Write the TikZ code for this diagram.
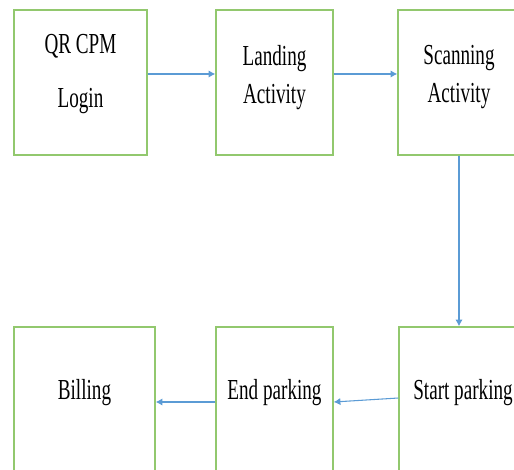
\documentclass[tikz,border=0pt]{standalone}
\usepackage{fontspec}
\setmainfont{Liberation Serif}
\usetikzlibrary{arrows.meta,calc}
\definecolor{boxgreen}{RGB}{146,200,110}
\definecolor{flowblue}{RGB}{91,155,213}
\newcommand{\squeeze}[1]{\scalebox{0.66}[1]{#1}}
\tikzset{
  stage/.style={draw=boxgreen, line width=1.1pt, minimum width=#1,
    minimum height=108.75pt, inner sep=0pt},
  lowstage/.style={stage=#1, minimum height=112.5pt},
  caption/.style={font=\fontsize{21.75}{28.5}\selectfont, align=center, inner sep=0pt},
  flow/.style={draw=flowblue, line width=0.8pt, -{Latex[length=5pt,width=5.5pt]}}
}
\begin{document}
\begin{tikzpicture}[x=0.75pt,y=-0.75pt]
\useasboundingbox (0,0) rectangle (514,469);
\clip (0,0) rectangle (514,469);
% top row
\node[stage=99.75pt] (login) at (80.5,82.5) {};
\node[stage=87.75pt] (land) at (274.5,82.5) {};
\node[stage=91.5pt] (scan) at (459,82.5) {};
\node[caption] (loginlbl) at ($(login)+(0,-8)$) {\squeeze{QR CPM}\\[12pt]\squeeze{Login}};
\node[caption] (landlbl) at ($(land)+(0,-5)$) {\squeeze{Landing}\\\squeeze{Activity}};
\node[caption] (scanlbl) at ($(scan)+(0,-5)$) {\squeeze{Scanning}\\\squeeze{Activity}};
% bottom row
\node[lowstage=105.75pt] (bill) at (84.5,402) {};
\node[lowstage=87.75pt] (endp) at (274.5,402) {};
\node[lowstage=91.5pt] (start) at (460,402) {};
\node[caption] (billlbl) at ($(bill)+(0,-9)$) {\squeeze{Billing}};
\node[caption] (endplbl) at ($(endp)+(0,-9)$) {\squeeze{End parking}};
\node[caption] (startlbl) at ($(start)+(3,-9)$) {\squeeze{Start parking}};
\draw[flow] ([yshift=6.4pt]login.east) -- ([yshift=6.4pt]land.west);
\draw[flow] ([yshift=6.4pt]land.east) -- ([yshift=6.4pt]scan.west);
\draw[flow] (scan.south) -- (scan.south |- start.north);
\draw[flow] ([yshift=3pt]start.west) -- (endp.east);
\draw[flow] (endp.west) -- (bill.east);
\end{tikzpicture}
\end{document}
